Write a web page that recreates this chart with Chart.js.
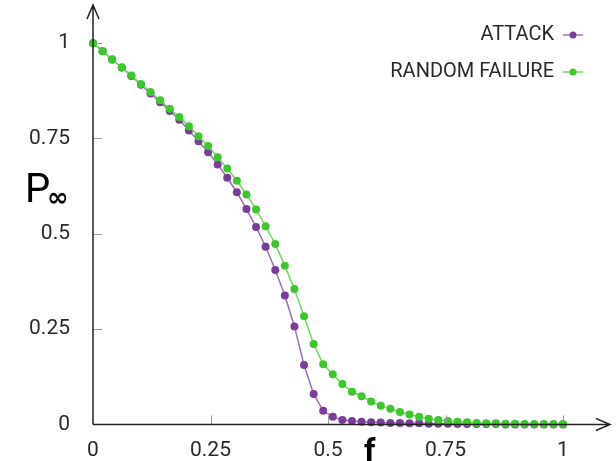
<!DOCTYPE html>
<html>
<head>
<meta charset="utf-8">
<script src="https://cdn.jsdelivr.net/npm/chart.js@4/dist/chart.umd.min.js"></script>
<style>
  body { margin: 0; background: #fff; }
  #wrap { width: 616px; height: 461px; }
</style>
</head>
<body>
<div id="wrap"><canvas id="chart" width="616" height="461"></canvas></div>
<script>
// fraction of removed nodes
const fValues = [
  0, 0.0204, 0.0408, 0.0612, 0.0816, 0.1020, 0.1224, 0.1429, 0.1633, 0.1837,
  0.2041, 0.2245, 0.2449, 0.2653, 0.2857, 0.3061, 0.3265, 0.3469, 0.3673, 0.3878,
  0.4082, 0.4286, 0.4490, 0.4694, 0.4898, 0.5102, 0.5306, 0.5510, 0.5714, 0.5918,
  0.6122, 0.6327, 0.6531, 0.6735, 0.6939, 0.7143, 0.7347, 0.7551, 0.7755, 0.7959,
  0.8163, 0.8367, 0.8571, 0.8776, 0.8980, 0.9184, 0.9388, 0.9592, 0.9796, 1
];
const attack = [
  1.000, 0.979, 0.957, 0.936, 0.914, 0.891, 0.868, 0.845, 0.822, 0.799,
  0.771, 0.743, 0.714, 0.682, 0.647, 0.609, 0.565, 0.518, 0.466, 0.405,
  0.338, 0.257, 0.156, 0.080, 0.036, 0.020, 0.012, 0.009, 0.007, 0.006,
  0.005, 0.004, 0.004, 0.003, 0.003, 0.002, 0.002, 0.002, 0.001, 0.001,
  0.001, 0.001, 0.001, 0, 0, 0, 0, 0, 0, 0
];
const randomFailure = [
  1.000, 0.979, 0.957, 0.936, 0.915, 0.893, 0.872, 0.850, 0.828, 0.806,
  0.782, 0.756, 0.730, 0.701, 0.671, 0.639, 0.603, 0.564, 0.520, 0.473,
  0.416, 0.355, 0.284, 0.211, 0.158, 0.132, 0.106, 0.086, 0.074, 0.060,
  0.049, 0.041, 0.033, 0.026, 0.020, 0.015, 0.012, 0.009, 0.007, 0.006,
  0.004, 0.003, 0.003, 0.002, 0.002, 0.001, 0.001, 0.001, 0.001, 0.001
];
const tickValues = [0, 0.25, 0.5, 0.75, 1];
const seriesNames = ["ATTACK", "RANDOM FAILURE"];

const COLOR = {
  purple: "#7a3e98",
  purpleLine: "#9a70b4",
  green: "#3cc82c",
  greenLine: "#72d862",
  axis: "#222",
  tick: "#999",
  text: "#2a2a2a",
};
const FONT = "Roboto, 'Noto Sans', sans-serif";

const toPoints = (ys) => ys.map((y, i) => ({ x: fValues[i], y }));

// axes with arrows, inward ticks, axis titles and the legend on the right
const decorPlugin = {
  id: "decor",
  afterDraw(chart) {
    const ctx = chart.ctx;
    const xs = chart.scales.x;
    const ys = chart.scales.y;
    const x0 = xs.getPixelForValue(0);
    const y0 = ys.getPixelForValue(0);
    const top = chart.chartArea.top;
    const right = chart.chartArea.right;
    ctx.save();

    ctx.strokeStyle = COLOR.tick;
    ctx.lineWidth = 1;
    tickValues.forEach((v) => {
      if (v === 0) return;
      const py = Math.round(ys.getPixelForValue(v)) + 0.5;
      ctx.beginPath();
      ctx.moveTo(x0, py);
      ctx.lineTo(x0 + 9, py);
      ctx.stroke();
      const px = Math.round(xs.getPixelForValue(v)) + 0.5;
      ctx.beginPath();
      ctx.moveTo(px, y0);
      ctx.lineTo(px, y0 - 9);
      ctx.stroke();
    });

    ctx.strokeStyle = COLOR.axis;
    ctx.lineWidth = 1.5;
    ctx.beginPath();
    ctx.moveTo(x0, y0);
    ctx.lineTo(x0, top);
    ctx.moveTo(x0 - 6, top + 14);
    ctx.lineTo(x0, top);
    ctx.lineTo(x0 + 6, top + 14);
    ctx.moveTo(x0, y0);
    ctx.lineTo(right, y0);
    ctx.moveTo(right - 14, y0 - 6);
    ctx.lineTo(right, y0);
    ctx.lineTo(right - 14, y0 + 6);
    ctx.stroke();

    // axis titles
    ctx.fillStyle = "#000";
    ctx.textBaseline = "alphabetic";
    ctx.textAlign = "left";
    ctx.font = `40px ${FONT}`;
    ctx.fillText("P", 25, 202);
    ctx.font = `bold 26px 'DejaVu Sans', sans-serif`;
    ctx.fillText("\u221e", 47, 206);
    ctx.font = `bold 32px ${FONT}`;
    ctx.fillText("f", 364, 461);

    // legend: label, then a short line with a dot
    ctx.font = `20px ${FONT}`;
    ctx.textAlign = "right";
    ctx.textBaseline = "middle";
    chart.data.datasets.forEach((ds, i) => {
      const ly = 35 + i * 37;
      ctx.fillStyle = COLOR.text;
      ctx.fillText(ds.label, 554, ly);
      ctx.strokeStyle = ds.borderColor;
      ctx.lineWidth = 1.5;
      ctx.beginPath();
      ctx.moveTo(563, ly);
      ctx.lineTo(583, ly);
      ctx.stroke();
      ctx.fillStyle = ds.pointBackgroundColor;
      ctx.beginPath();
      ctx.arc(573, ly, 3.5, 0, Math.PI * 2);
      ctx.fill();
    });
    ctx.restore();
  },
};

const datasetAttack = {
  label: seriesNames[0],
  data: toPoints(attack),
  borderColor: COLOR.purpleLine,
  pointBackgroundColor: COLOR.purple,
  pointBorderWidth: 0,
  pointRadius: 4,
  borderWidth: 1.5,
  order: 1,
  clip: false,
};
const datasetRandom = {
  label: seriesNames[1],
  data: toPoints(randomFailure),
  borderColor: COLOR.greenLine,
  pointBackgroundColor: COLOR.green,
  pointBorderWidth: 0,
  pointRadius: 4,
  borderWidth: 1.5,
  order: 0,
  clip: false,
};

new Chart(document.getElementById("chart"), {
  type: "line",
  data: { datasets: [datasetAttack, datasetRandom] },
  options: {
    responsive: false,
    animation: false,
    layout: { padding: { top: 5, right: 6, left: 0, bottom: 0 } },
    scales: {
      x: {
        type: "linear",
        min: 0,
        max: 1.1,
        afterBuildTicks: (scale) => {
          scale.ticks = tickValues.map((v) => ({ value: v }));
        },
        afterFit: (scale) => {
          scale.height = 36.5;
          scale.paddingLeft = 0;
          scale.paddingRight = 0;
        },
        grid: { display: false },
        border: { display: false },
        ticks: {
          color: COLOR.text,
          font: { family: FONT, size: 21 },
          padding: 6,
          maxRotation: 0,
          autoSkip: false,
          callback: (v) => String(v),
        },
      },
      y: {
        type: "linear",
        min: 0,
        max: 1.1,
        afterBuildTicks: (scale) => {
          scale.ticks = tickValues.map((v) => ({ value: v }));
        },
        afterFit: (scale) => {
          scale.width = 93;
          scale.paddingTop = 0;
          scale.paddingBottom = 0;
        },
        grid: { display: false },
        border: { display: false },
        ticks: {
          color: COLOR.text,
          font: { family: FONT, size: 21 },
          padding: 15,
          autoSkip: false,
          callback: (v) => String(v),
        },
      },
    },
    plugins: {
      legend: { display: false },
      tooltip: { enabled: false },
    },
  },
  plugins: [decorPlugin],
});
</script>
</body>
</html>
